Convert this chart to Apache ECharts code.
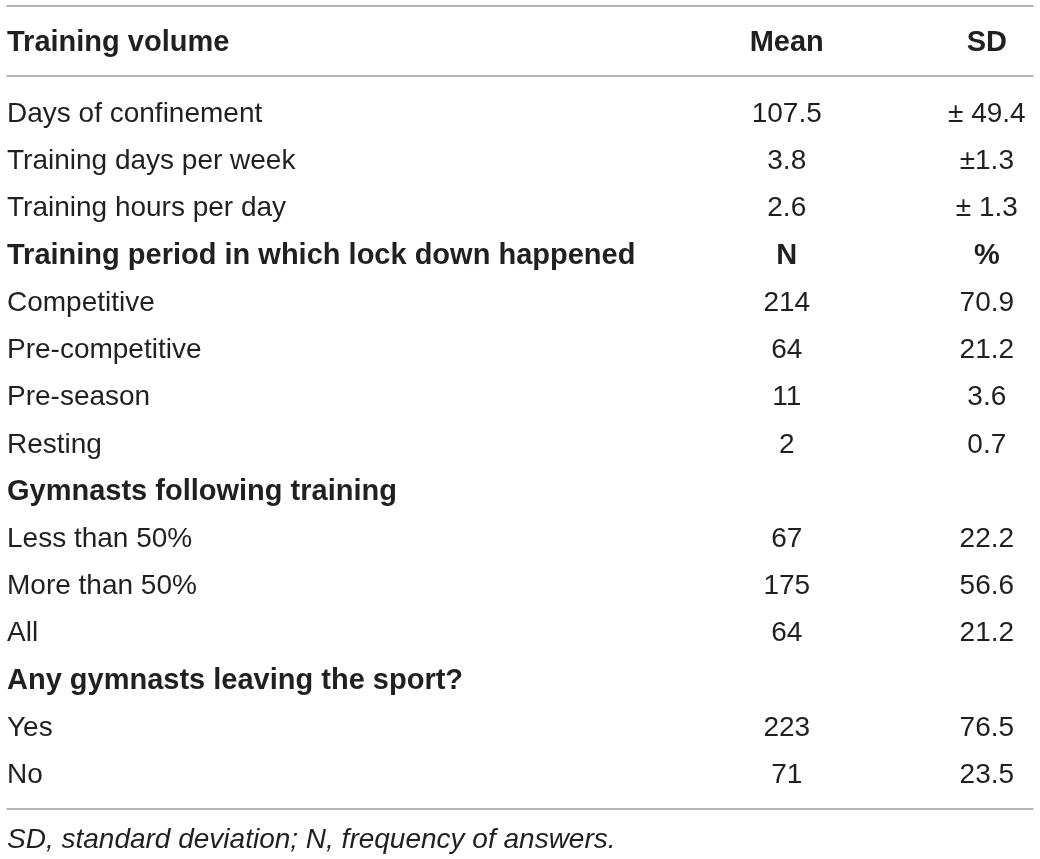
<!DOCTYPE html>
<html>
<head>
    <meta charset="utf-8">
    <title>Training volume</title>
    <script src="https://cdn.jsdelivr.net/npm/echarts@6/dist/echarts.min.js"></script>
    <style>
        html, body { margin: 0; padding: 0; background: #fff; }
    </style>
</head>
<body>
    <div id="main" style="width: 1040px;height:859px;"></div>

<script>
// table content
const headers = ['Training volume', 'Mean', 'SD'];
const rowLabels = [
    'Days of confinement',
    'Training days per week',
    'Training hours per day',
    'Training period in which lock down happened',
    'Competitive',
    'Pre-competitive',
    'Pre-season',
    'Resting',
    'Gymnasts following training',
    'Less than 50%',
    'More than 50%',
    'All',
    'Any gymnasts leaving the sport?',
    'Yes',
    'No'
];
const meanCol = ['107.5', '3.8', '2.6', 'N', '214', '64', '11', '2', '', '67', '175', '64', '', '223', '71'];
const sdCol = ['± 49.4', '±1.3', '± 1.3', '%', '70.9', '21.2', '3.6', '0.7', '', '22.2', '56.6', '21.2', '', '76.5', '23.5'];
const boldRows = [3, 8, 12];
const footnote = 'SD, standard deviation; N, frequency of answers.';

const TEXT = '#231f20';
const RULE = '#9b9b9b';
const FS = 28;
const FONT = 'Liberation Sans';
// column anchors on the x scale (0..1)
const COL_X = [0, 0.760, 0.955];

let myChart;

function cell(x, y, text, bold) {
    return {
        value: [x, y],
        name: text,
        label: { fontWeight: bold ? 'bold' : 'normal', fontSize: bold ? FS + 1 : FS }
    };
}

function textSeries(xIdx, yIdx, data, align) {
    return {
        type: 'scatter',
        xAxisIndex: xIdx,
        yAxisIndex: yIdx,
        symbolSize: 0,
        silent: true,
        itemStyle: { opacity: 1 },
        data: data,
        label: {
            show: true,
            position: 'inside',
            align: align,
            verticalAlign: 'middle',
            color: TEXT,
            opacity: 1,
            fontSize: FS,
            fontFamily: FONT,
            formatter: p => p.name
        }
    };
}

function initChart() {
    myChart = echarts.init(document.getElementById('main'), null, { renderer: 'canvas' });

    const hidden = {
        axisLabel: { show: false },
        axisTick: { show: false },
        splitLine: { show: false }
    };
    const rule = { show: true, onZero: false, lineStyle: { color: RULE, width: 1.5 } };

    const body = rowLabels.map((t, i) => cell(COL_X[0], i + 1, t, boldRows.includes(i)));
    const means = meanCol.map((t, i) => cell(COL_X[1], i + 1, t, t === 'N'));
    const sds = sdCol.map((t, i) => cell(COL_X[2], i + 1, t, t === '%'));

    const option = {
        animation: false,
        title: {
            text: footnote,
            left: 7,
            top: 826,
            padding: 0,
            textStyle: {
                color: TEXT,
                fontSize: FS,
                fontFamily: FONT,
                fontStyle: 'italic',
                fontWeight: 'normal'
            }
        },
        grid: [
            { left: 7, right: 7, top: 6, height: 70 },
            { left: 7, right: 7, top: 76, height: 733 }
        ],
        xAxis: [
            Object.assign({ type: 'value', gridIndex: 0, min: 0, max: 1, position: 'top', axisLine: rule }, hidden),
            Object.assign({ type: 'value', gridIndex: 0, min: 0, max: 1, position: 'bottom', axisLine: rule }, hidden),
            Object.assign({ type: 'value', gridIndex: 1, min: 0, max: 1, position: 'bottom', axisLine: rule }, hidden)
        ],
        yAxis: [
            Object.assign({ type: 'value', gridIndex: 0, min: -1, max: 1, axisLine: { show: false } }, hidden),
            Object.assign({ type: 'value', gridIndex: 1, inverse: true, min: 0.19, max: 15.71, axisLine: { show: false } }, hidden)
        ],
        series: [
            textSeries(0, 0, [cell(COL_X[0], -0.05, headers[0], true)], 'left'),
            textSeries(0, 0, [cell(COL_X[1], -0.05, headers[1], true), cell(COL_X[2], -0.05, headers[2], true)], 'center'),
            textSeries(2, 1, body, 'left'),
            textSeries(2, 1, means, 'center'),
            textSeries(2, 1, sds, 'center')
        ]
    };
    myChart.setOption(option);
}

window.onload = () => {
    initChart();
};
</script>
</body>
</html>
